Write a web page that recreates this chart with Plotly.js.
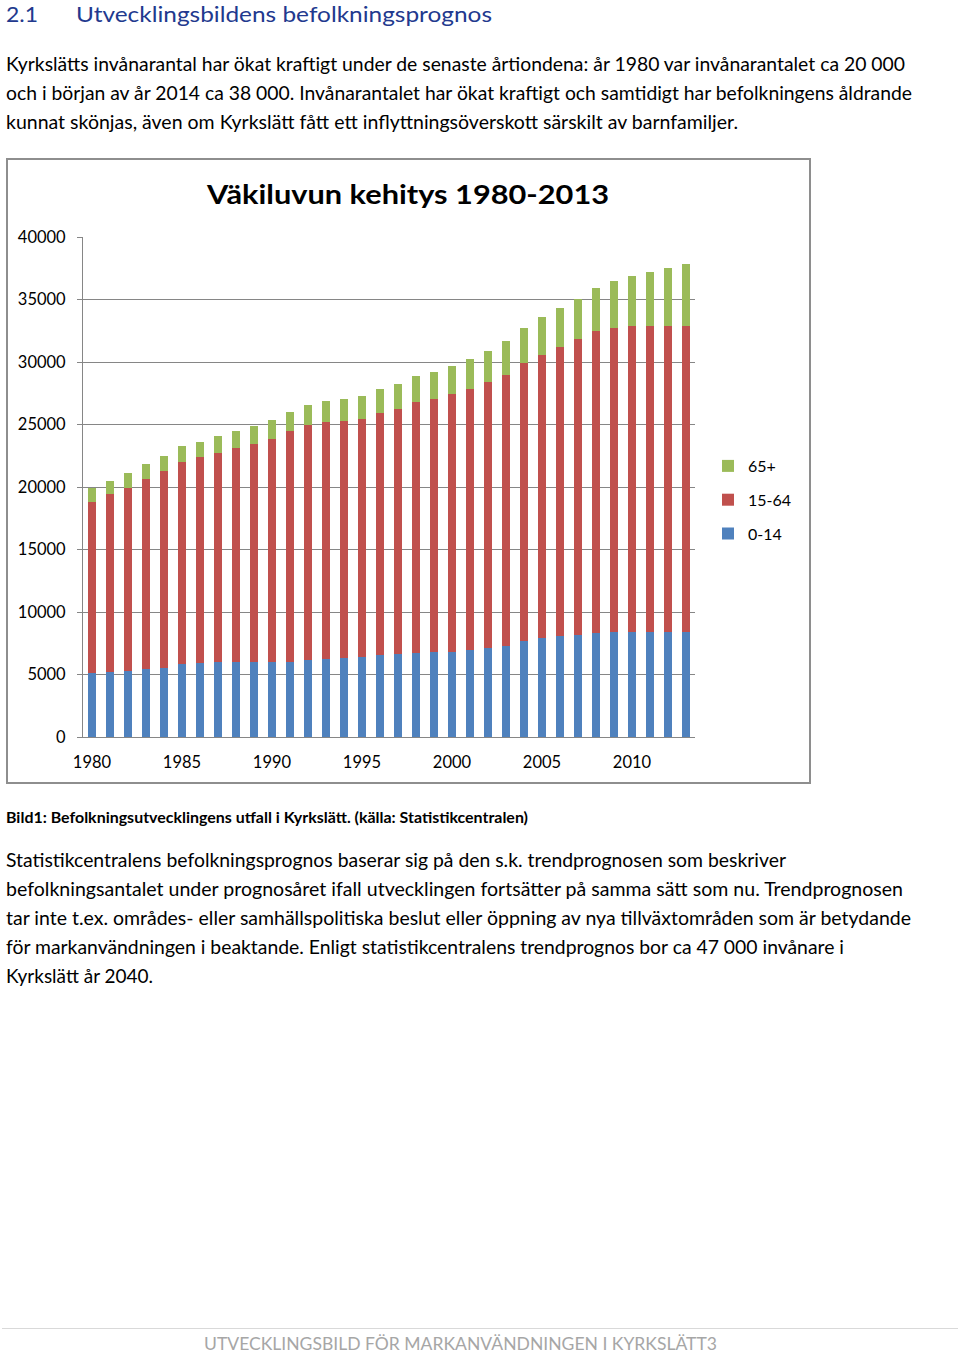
<!DOCTYPE html>
<html>
<head>
<meta charset="utf-8">
<script src="https://cdn.plot.ly/plotly-3.0.1.min.js"></script>
<style>
  html, body { margin:0; padding:0; background:#fff; }
  #page { position:relative; width:960px; height:1355px; overflow:hidden; background:#fff; }
  #doc { position:absolute; left:0; top:0; }
  #chart { position:absolute; left:6px; top:158px; width:805px; height:626px; }
  #frame { position:absolute; left:6px; top:158px; width:805px; height:626px; box-sizing:border-box; border:2px solid #8e8e8e; pointer-events:none; }
  .t { font-family: Lato, 'Open Sans', sans-serif; font-size:18.6px; fill:#000; }
</style>
</head>
<body>
<div id="page">
<svg id="doc" width="960" height="1355" xmlns="http://www.w3.org/2000/svg">
  <text class="t" x="6" y="22" style="font-size:22px;fill:#22398e" data-w="32">2.1</text>
  <text class="t" x="76" y="22" style="font-size:22px;fill:#22398e" data-w="416">Utvecklingsbildens befolkningsprognos</text>

  <text class="t" x="6" y="71" data-w="899">Kyrkslätts invånarantal har ökat kraftigt under de senaste årtiondena: år 1980 var invånarantalet ca 20 000</text>
  <text class="t" x="6" y="100" data-w="906">och i början av år 2014 ca 38 000. Invånarantalet har ökat kraftigt och samtidigt har befolkningens åldrande</text>
  <text class="t" x="6" y="129" data-w="732">kunnat skönjas, även om Kyrkslätt fått ett inflyttningsöverskott särskilt av barnfamiljer.</text>

  <text class="t" x="6" y="823" style="font-size:15px;font-weight:bold" data-w="522">Bild1: Befolkningsutvecklingens utfall i Kyrkslätt. (källa: Statistikcentralen)</text>

  <text class="t" x="6" y="867" data-w="780">Statistikcentralens befolkningsprognos baserar sig på den s.k. trendprognosen som beskriver</text>
  <text class="t" x="6" y="896" data-w="897">befolkningsantalet under prognosåret ifall utvecklingen fortsätter på samma sätt som nu. Trendprognosen</text>
  <text class="t" x="6" y="925" data-w="905">tar inte t.ex. områdes- eller samhällspolitiska beslut eller öppning av nya tillväxtområden som är betydande</text>
  <text class="t" x="6" y="954" data-w="838">för markanvändningen i beaktande. Enligt statistikcentralens trendprognos bor ca 47 000 invånare i</text>
  <text class="t" x="6" y="983" data-w="147">Kyrkslätt år 2040.</text>

  <line x1="2" y1="1328.5" x2="958" y2="1328.5" stroke="#d9d9d9" stroke-width="1"/>
  <text class="t" x="204" y="1350" style="fill:#a6a6a6;font-size:17px" data-w="513">UTVECKLINGSBILD FÖR MARKANVÄNDNINGEN I KYRKSLÄTT3</text>
</svg>
<div id="chart"></div>
<div id="frame"></div>
</div>
<script>
// ---- data ----
const years = [1980, 1981, 1982, 1983, 1984, 1985, 1986, 1987, 1988, 1989,
               1990, 1991, 1992, 1993, 1994, 1995, 1996, 1997, 1998, 1999,
               2000, 2001, 2002, 2003, 2004, 2005, 2006, 2007, 2008, 2009,
               2010, 2011, 2012, 2013];
const age0_14 = [5160, 5210, 5260, 5450, 5560, 5820, 5930, 6040, 6000, 6040,
                 6040, 6030, 6150, 6230, 6290, 6390, 6530, 6610, 6690, 6770,
                 6800, 6960, 7110, 7270, 7670, 7960, 8070, 8200, 8360, 8390,
                 8410, 8420, 8410, 8400];
const age15_64 = [13670, 14210, 14690, 15200, 15730, 16220, 16480, 16720, 17130, 17390,
                  17820, 18480, 18780, 19000, 19020, 19050, 19360, 19630, 20080, 20270,
                  20610, 20890, 21310, 21710, 22270, 22620, 23100, 23610, 24120, 24360,
                  24500, 24490, 24500, 24510];
const age65plus = [1120, 1090, 1150, 1180, 1180, 1230, 1200, 1290, 1370, 1420,
                   1520, 1500, 1600, 1680, 1730, 1840, 1950, 2030, 2080, 2170,
                   2250, 2400, 2460, 2700, 2810, 2990, 3180, 3260, 3470, 3710,
                   4000, 4300, 4640, 4940];
const seriesNames = ['0-14', '15-64', '65+'];
const xTickLabels = [1980, 1985, 1990, 1995, 2000, 2005, 2010];
const chartTitle = 'Väkiluvun kehitys 1980-2013';

const colors = ['#4f81bd', '#c0504d', '#9bbb59'];
const seriesData = [age0_14, age15_64, age65plus];

const traces = seriesData.map((vals, i) => ({
  type: 'bar',
  x: years,
  y: vals,
  name: seriesNames[i],
  legendgroup: seriesNames[i],
  legendrank: 10 - i,
  marker: { color: colors[i], line: { width: 0 } },
  hoverinfo: 'skip'
}));

const grid = '#868686';
const layout = {
  width: 805, height: 626,
  margin: { l: 77, r: 116, t: 79, b: 47, pad: 0 },
  paper_bgcolor: 'rgba(0,0,0,0)',
  plot_bgcolor: 'rgba(0,0,0,0)',
  barmode: 'stack',
  bargap: 0.59,
  font: { family: 'Lato, "Open Sans", sans-serif', size: 16, color: '#000' },
  title: {
    text: chartTitle,
    font: { family: 'Lato, "Open Sans", sans-serif', size: 27, weight: 'bold', color: '#000' },
    xref: 'container', x: 0.4995, xanchor: 'center',
    yref: 'container', y: 1 - 46 / 626, yanchor: 'bottom'
  },
  xaxis: {
    range: [1979.5, 2013.5],
    tickmode: 'array', tickvals: xTickLabels, ticktext: xTickLabels.map(String),
    ticks: '', showgrid: false, zeroline: false,
    showline: true, linecolor: grid, linewidth: 1,
    ticklabelstandoff: 10,
    tickfont: { size: 16.5 },
    fixedrange: true
  },
  xaxis2: {
    overlaying: 'x', anchor: 'y', side: 'bottom',
    range: [1979.5, 2013.5],
    tickmode: 'linear', tick0: 1979.5, dtick: 5,
    ticks: 'outside', ticklen: 5, tickcolor: grid, tickwidth: 1,
    showticklabels: false, showgrid: false, zeroline: false, showline: false,
    fixedrange: true
  },
  yaxis: {
    range: [0, 40000], tickmode: 'linear', tick0: 0, dtick: 5000,
    tickformat: 'd',
    showgrid: true, gridcolor: grid, gridwidth: 1,
    zeroline: false, showline: true, linecolor: grid, linewidth: 1,
    ticks: 'outside', ticklen: 5, tickcolor: grid,
    ticklabelstandoff: 8,
    tickfont: { size: 16.5 },
    fixedrange: true
  },
  showlegend: true,
  legend: {
    x: (742 - 40 - 77) / 612, xanchor: 'left',
    y: (579 - 342) / 500, yanchor: 'middle',
    traceorder: 'grouped',
    tracegroupgap: 10,
    font: { size: 16 },
    bgcolor: 'rgba(0,0,0,0)', borderwidth: 0
  }
};

function fitDocText() {
  document.querySelectorAll('#doc text[data-w]').forEach(t => {
    t.setAttribute('textLength', t.getAttribute('data-w'));
    t.setAttribute('lengthAdjust', 'spacingAndGlyphs');
  });
}
fitDocText();

Plotly.newPlot('chart', traces, layout, { staticPlot: true, displayModeBar: false }).then(gd => {
  const tt = gd.querySelector('.gtitle');
  if (tt) {
    tt.setAttribute('textLength', '402');
    tt.setAttribute('lengthAdjust', 'spacingAndGlyphs');
  }
});
</script>
</body>
</html>
